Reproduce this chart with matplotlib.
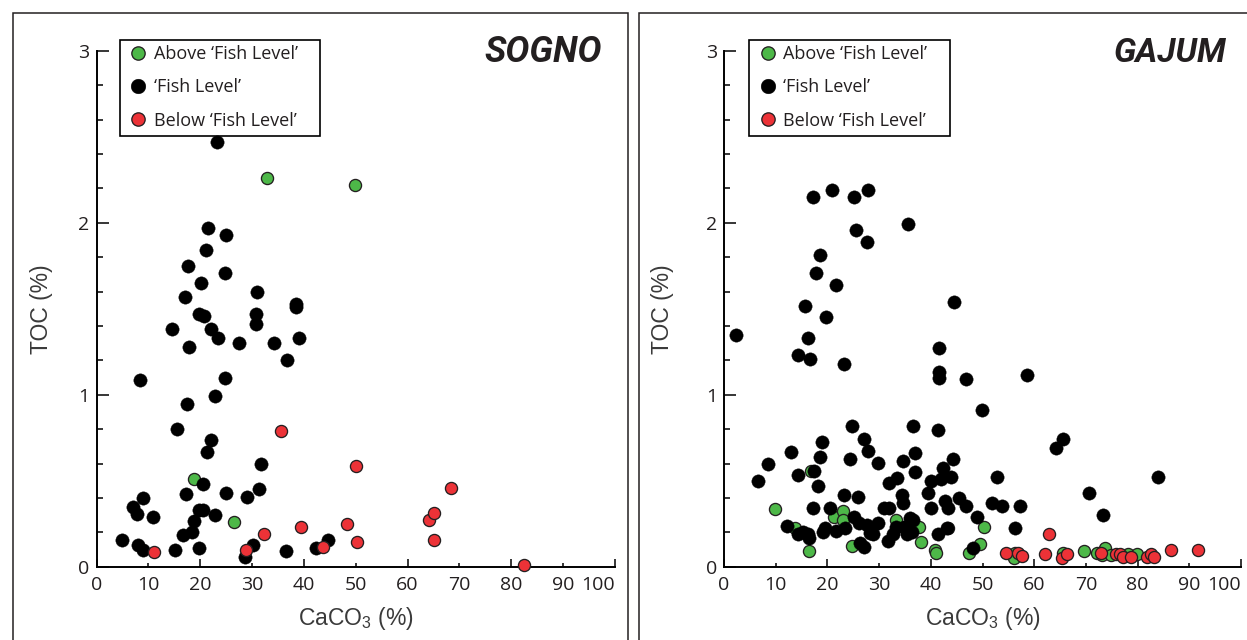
import matplotlib
matplotlib.use('Agg')
import matplotlib.pyplot as plt
from matplotlib import font_manager as fm
from matplotlib.patches import Rectangle

# ---------------- data ----------------
sogno_above_x = [32.9, 49.8, 18.8, 26.5]
sogno_above_y = [2.26, 2.22, 0.51, 0.257]

sogno_fish_x = [23.2, 21.6, 24.9, 21.2, 17.6, 24.7, 20.1, 31.0, 17.0, 38.5, 38.5, 19.7, 20.8,
                30.7, 30.7, 14.6, 22.0, 23.5, 39.1, 27.4, 34.2, 17.9, 36.7, 8.3, 24.7, 22.8,
                17.5, 15.55, 22.0, 21.4, 31.7, 20.6, 31.3, 17.2, 25.0, 29.0, 8.9, 7.0, 7.9,
                10.85, 19.8, 20.5, 22.8, 18.9, 18.4, 16.65, 4.98, 8.07, 8.9, 15.2, 19.8, 30.1,
                28.7, 36.6, 42.4, 44.6]
sogno_fish_y = [2.47, 1.97, 1.93, 1.84, 1.75, 1.71, 1.65, 1.60, 1.57, 1.53, 1.51, 1.47, 1.46,
                1.47, 1.41, 1.38, 1.38, 1.33, 1.33, 1.30, 1.30, 1.28, 1.20, 1.085, 1.095, 0.994,
                0.944, 0.80, 0.735, 0.667, 0.595, 0.479, 0.453, 0.42, 0.43, 0.407, 0.40, 0.35, 0.306,
                0.287, 0.33, 0.33, 0.30, 0.266, 0.202, 0.184, 0.155, 0.126, 0.10, 0.10, 0.11, 0.126,
                0.058, 0.091, 0.11, 0.155]

sogno_below_x = [11.1, 28.8, 32.3, 35.5, 39.35, 43.7, 48.4, 50.1, 50.3, 64.2, 65.1, 65.0, 68.3, 82.4]
sogno_below_y = [0.087, 0.097, 0.19, 0.79, 0.231, 0.116, 0.25, 0.587, 0.144, 0.27, 0.31, 0.157, 0.456, 0.012]

gajum_above_x = [9.9, 13.8, 16.4, 16.8, 21.3, 23.0, 23.0, 24.8, 33.2, 37.7, 38.15, 40.8, 41.1,
                 43.3, 47.3, 49.6, 50.2, 56.3, 56.0, 65.6, 69.7, 72.1, 73.05, 73.7, 74.8, 78.2, 79.8]
gajum_above_y = [0.337, 0.223, 0.093, 0.558, 0.287, 0.326, 0.272, 0.12, 0.27, 0.233, 0.145, 0.097, 0.081,
                 0.225, 0.081, 0.134, 0.233, 0.078, 0.049, 0.081, 0.093, 0.081, 0.068, 0.107, 0.068, 0.074, 0.072]

gajum_fish_x = [2.3, 17.3, 20.8, 25.1, 27.8, 35.65, 25.5, 27.6, 18.6, 17.85, 21.7, 15.7, 44.5,
                19.8, 16.3, 14.4, 16.6, 23.2, 41.6, 41.6, 41.6, 46.75, 58.7, 49.9, 24.8, 36.6,
                41.3, 65.6, 64.2, 83.9, 70.6, 73.4,
                6.5, 8.45, 12.9, 14.4, 12.1, 14.4, 15.3, 16.3, 16.4, 17.5, 18.2, 18.5, 19.0,
                17.3, 19.2, 19.5, 20.5, 21.7, 23.3, 23.5, 24.4, 25.1, 25.9, 26.2, 26.3, 27.1,
                27.1, 27.9, 27.6, 28.2, 28.8, 29.85, 29.7, 31.0, 31.9, 31.9, 31.8, 32.75, 33.4,
                33.3, 34.4, 34.55, 34.7, 34.8, 35.3, 36.0, 36.9, 36.9, 36.6, 36.3, 39.5, 40.0,
                40.0, 41.3, 41.9, 42.4, 42.7, 43.2, 43.4, 43.9, 44.2, 45.5, 46.75, 48.2, 48.9,
                51.8, 52.75, 53.8, 57.25, 56.2]
gajum_fish_y = [1.35, 2.15, 2.19, 2.15, 2.19, 1.995, 1.955, 1.89, 1.81, 1.71, 1.635, 1.515, 1.54,
                1.45, 1.33, 1.23, 1.205, 1.18, 1.27, 1.13, 1.10, 1.09, 1.115, 0.91, 0.82, 0.82,
                0.795, 0.74, 0.69, 0.52, 0.43, 0.30,
                0.497, 0.597, 0.665, 0.533, 0.238, 0.19, 0.203, 0.19, 0.165, 0.558, 0.469, 0.636, 0.727,
                0.343, 0.203, 0.227, 0.339, 0.21, 0.417, 0.227, 0.624, 0.291, 0.403, 0.252, 0.14, 0.741,
                0.113, 0.674, 0.24, 0.198, 0.19, 0.256, 0.601, 0.339, 0.339, 0.485, 0.15, 0.19, 0.514,
                0.233, 0.417, 0.616, 0.368, 0.233, 0.19, 0.281, 0.552, 0.663, 0.272, 0.204, 0.43, 0.498,
                0.343, 0.188, 0.508, 0.572, 0.384, 0.223, 0.343, 0.52, 0.624, 0.397, 0.353, 0.11, 0.291,
                0.368, 0.523, 0.353, 0.353, 0.225]

gajum_below_x = [62.8, 54.5, 56.9, 57.7, 62.1, 65.4, 66.3, 72.9, 75.8, 76.6, 77.2, 78.7, 81.8,
                 82.5, 83.2, 86.4, 91.6]
gajum_below_y = [0.188, 0.081, 0.081, 0.064, 0.074, 0.053, 0.072, 0.081, 0.072, 0.074, 0.058,
                 0.054, 0.054, 0.074, 0.054, 0.097, 0.097]

labels = ['Above \u2018Fish Level\u2019', '\u2018Fish Level\u2019', 'Below \u2018Fish Level\u2019']
x_ticks = [0, 10, 20, 30, 40, 50, 60, 70, 80, 90, 100]
y_ticks = [0, 1, 2, 3]
titles = ['SOGNO', 'GAJUM']

# ---------------- styles ----------------
GREEN = '#4db848'
RED = '#ec3237'
BLACK = '#000000'
EDGE = '#231f20'

def find_font(families, italic=False, bold=False):
    for fam in families:
        for f in fm.fontManager.ttflist:
            if f.name != fam:
                continue
            st_ok = (f.style in ('italic', 'oblique')) if italic else (f.style == 'normal')
            w = f.weight
            if isinstance(w, str):
                w = fm.weight_dict.get(w, 400)
            w_ok = (600 <= w <= 750) if bold else (350 <= w <= 450)
            if st_ok and w_ok:
                return fm.FontProperties(fname=f.fname)
    return fm.FontProperties(family='DejaVu Sans', style='italic' if italic else 'normal',
                             weight='bold' if bold else 'normal')

title_fp = find_font(['Roboto', 'Open Sans', 'Noto Sans', 'Lato', 'Liberation Sans', 'DejaVu Sans'],
                     italic=True, bold=True)

plt.rcParams['font.family'] = ['Open Sans', 'DejaVu Sans']
plt.rcParams['mathtext.fontset'] = 'custom'
plt.rcParams['mathtext.rm'] = 'Liberation Sans'
plt.rcParams['mathtext.it'] = 'Liberation Sans:italic'
plt.rcParams['mathtext.bf'] = 'Liberation Sans:bold'

W, H = 1247, 640
fig = plt.figure(figsize=(W / 100, H / 100), dpi=100)
fig.patch.set_facecolor('white')

def fx(px):
    return px / W

def fy(py):
    return 1 - py / H

# panel frames
for (x0, x1) in [(12.5, 627.5), (638.5, 1262)]:
    fig.patches.append(Rectangle((fx(x0), fy(700)), fx(x1) - fx(x0), fy(12.5) - fy(700),
                                 transform=fig.transFigure, fill=False,
                                 edgecolor=EDGE, lw=1.1, zorder=0))

AX_TOP, AX_BOT = 50.7, 566.7
axes_px = [(96.5, 615.0), (724.0, 1241.0)]
panels = [
    (sogno_above_x, sogno_above_y, sogno_fish_x, sogno_fish_y, sogno_below_x, sogno_below_y),
    (gajum_above_x, gajum_above_y, gajum_fish_x, gajum_fish_y, gajum_below_x, gajum_below_y),
]
ylabel_right = [52.5, 673.5]
legend_left = [119.5, 749.0]
title_right = [602.0, 1226.5]
title_width = [117.5, 113.0]

for i, ((x0, x1), data) in enumerate(zip(axes_px, panels)):
    ax = fig.add_axes([fx(x0), fy(AX_BOT), fx(x1) - fx(x0), fy(AX_TOP) - fy(AX_BOT)])
    ax.set_facecolor('none')
    ax_x, ax_y, fi_x, fi_y, be_x, be_y = data
    h1 = ax.scatter(ax_x, ax_y, s=76, c=GREEN, edgecolors=EDGE, linewidths=0.95, zorder=3, clip_on=False)
    h2 = ax.scatter(fi_x, fi_y, s=92, c=BLACK, edgecolors=BLACK, linewidths=0.3, zorder=4, clip_on=False)
    h3 = ax.scatter(be_x, be_y, s=76, c=RED, edgecolors=EDGE, linewidths=0.95, zorder=5, clip_on=False)

    ax.set_xlim(0, 100)
    ax.set_ylim(0, 3)
    for s in ['top', 'right']:
        ax.spines[s].set_visible(False)
    for s in ['left', 'bottom']:
        ax.spines[s].set_linewidth(1.4)
        ax.spines[s].set_color(BLACK)

    major_x = [t for t in x_ticks if t % 20 == 0]
    minor_x = [t for t in x_ticks if t % 20 != 0]
    ax.set_xticks(major_x)
    ax.set_xticklabels([str(t) for t in major_x])
    ax.set_xticks(minor_x, minor=True)
    ax.set_xticklabels([str(t) for t in minor_x], minor=True)
    ax.set_yticks(y_ticks)
    ax.set_yticklabels([str(t) for t in y_ticks])
    ax.set_yticks([v / 5 for v in range(0, 16)], minor=True)

    ax.tick_params(axis='x', which='major', direction='in', length=5.8, width=1.1, pad=7, labelsize=14)
    ax.tick_params(axis='x', which='minor', direction='in', length=2.9, width=1.1, pad=7, labelsize=14)
    ax.tick_params(axis='y', which='major', direction='in', length=8.4, width=1.1, pad=5, labelsize=14)
    ax.tick_params(axis='y', which='minor', direction='in', length=4.3, width=1.1)
    for lab in ax.get_xticklabels(which='both') + ax.get_yticklabels():
        lab.set_color('#231f20')
    # the last x label sits left of its tick, as in the original
    ax.get_xticklabels()[-1].set_horizontalalignment('right')

    wpx = x1 - x0
    hpx = AX_BOT - AX_TOP
    ax.set_ylabel('TOC (%)', fontfamily='Liberation Sans', fontsize=16.5, color='#3a3a3a')
    ax.yaxis.set_label_coords((ylabel_right[i] - x0) / wpx, 0.5)
    ax.set_xlabel('CaCO$_3$ (%)', fontfamily='Liberation Sans', fontsize=16.5, color='#3a3a3a')
    ax.xaxis.set_label_coords(0.5, -(605.0 - AX_BOT) / hpx)

    # legend
    leg = ax.legend([h1, h2, h3], labels, loc='upper left',
                    bbox_to_anchor=(fx(legend_left[i] + 9.5), fy(45.0)),
                    bbox_transform=fig.transFigure, frameon=False, borderpad=0,
                    borderaxespad=0, handlelength=1.0, handletextpad=0.38,
                    labelspacing=0.85, fontsize=13, markerscale=1.1, scatteryoffsets=[0.5])
    for t in leg.get_texts():
        t.set_color('#231f20')
    fig.patches.append(Rectangle((fx(legend_left[i]), fy(135.5)), fx(200.5), fy(39.6) - fy(135.5),
                                 transform=fig.transFigure, fill=False, edgecolor=BLACK,
                                 lw=1.2, zorder=10))

    # title
    t = fig.text(fx(title_right[i]), fy(62.5), titles[i], fontproperties=title_fp,
                 fontsize=26, ha='right', va='baseline', color='#231f20')
    fig.canvas.draw()
    bb = t.get_window_extent()
    if bb.width > 0:
        t.set_fontsize(26 * title_width[i] / bb.width)

fig.savefig('out.png', dpi=100, facecolor='white')
